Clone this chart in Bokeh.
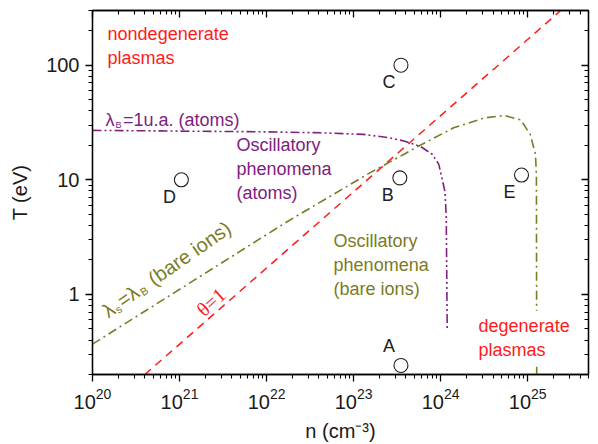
import math
from bokeh.plotting import figure
from bokeh.models import (LogAxis, FixedTicker, Label, LogTickFormatter,
                          PrintfTickFormatter, Range1d)
from bokeh.embed import file_html
from bokeh.resources import INLINE

# ---------------- data ----------------
# theta = 1 line (degeneracy boundary)
theta_n = [4.0e20, 2.4e25]
theta_T = [0.2, 300.0]

# lambda_B = 1 a.u. (atoms) curve
atoms_n = [1e20, 1e21, 1e22, 4.2e22, 1.29e23, 2.45e23, 3.8e23, 5.9e23,
           8.0e23, 9.5e23, 1.02e24, 1.12e24, 1.16e24, 1.19e24]
atoms_T = [27.0, 26.6, 26.2, 25.7, 24.9, 23.4, 21.8, 19.5,
           16.7, 13.7, 10.9, 7.9, 4.8, 0.5]

# lambda_s = lambda_B (bare ions) curve
ions_n = [1e20, 1.74e22, 1.57e23, 3.8e23, 5.6e23, 1.41e24, 3.16e24, 5.37e24,
          8.3e24, 1.07e25, 1.23e25, 1.26e25, 1.27e25]
ions_T = [0.368, 4.33, 11.6, 16.7, 19.7, 28.4, 34.6, 36.4,
          33.4, 24.9, 16.7, 10.9, 0.2]

# marked plasma conditions
pt_names = ["A", "B", "C", "D", "E"]
pt_n = [3.5e23, 3.4e23, 3.5e23, 1.05e21, 8.5e24]
pt_T = [0.24, 10.4, 100.0, 10.0, 11.0]

x_major = [1e20, 1e21, 1e22, 1e23, 1e24, 1e25]
y_major = [1, 10, 100]

# ---------------- styling ----------------
FONT = "Liberation Sans"
RED = "#ff1a1a"
PURPLE = "#80207f"
OLIVE = "#7b7b24"
INK = "#1a1a1a"

X0, X1 = 1e20, 5e25
Y0, Y1 = 0.2, 300

x_minor = [m * 10.0 ** k for k in range(20, 26) for m in range(2, 10) if m * 10.0 ** k <= X1]
y_minor = [m * 10.0 ** k for k in range(-1, 3) for m in range(2, 10) if Y0 <= m * 10.0 ** k <= Y1]

p = figure(width=598, height=444, x_axis_type="log", y_axis_type="log",
           x_range=Range1d(X0, X1), y_range=Range1d(Y0, Y1),
           output_backend="svg", toolbar_location=None,
           min_border_left=92, min_border_right=10, min_border_top=10,
           min_border_bottom=67)
p.xgrid.visible = False
p.ygrid.visible = False
p.outline_line_color = "black"
p.outline_line_width = 1.3
p.background_fill_color = "white"
p.border_fill_color = "white"

xt = FixedTicker(ticks=x_major, minor_ticks=x_minor)
yt = FixedTicker(ticks=y_major, minor_ticks=y_minor)

p.xaxis.ticker = xt
p.xaxis.formatter = LogTickFormatter()
p.yaxis.ticker = yt
p.yaxis.formatter = PrintfTickFormatter(format="%d")

for ax in (p.xaxis[0], p.yaxis[0]):
    ax.major_tick_out = 7
    ax.major_tick_in = 0
    ax.minor_tick_out = 4
    ax.minor_tick_in = 0
    ax.axis_line_width = 1.3
    ax.major_tick_line_width = 1.3
    ax.minor_tick_line_width = 1.1
    ax.axis_line_color = "black"
    ax.major_tick_line_color = "black"
    ax.minor_tick_line_color = "black"
    ax.major_label_text_font = FONT
    ax.major_label_text_font_size = "20px"
    ax.major_label_text_font_style = "normal"
    ax.major_label_text_color = INK
    ax.axis_label_text_font = FONT
    ax.axis_label_text_font_size = "20px"
    ax.axis_label_text_font_style = "normal"
    ax.axis_label_text_color = INK

p.xaxis.axis_label = "n (cm\u207b\u00b3)"
p.yaxis.axis_label = "T (eV)"
p.xaxis.major_label_standoff = 6
p.yaxis.major_label_standoff = 6
p.xaxis.axis_label_standoff = 8
p.yaxis.axis_label_standoff = 12

# mirrored axes with inward ticks
top = LogAxis(ticker=xt, formatter=LogTickFormatter())
right = LogAxis(ticker=yt, formatter=PrintfTickFormatter(format="%d"))
for ax in (top, right):
    ax.major_tick_out = 0
    ax.major_tick_in = 7
    ax.minor_tick_out = 0
    ax.minor_tick_in = 4
    ax.axis_line_width = 1.3
    ax.major_tick_line_width = 1.3
    ax.minor_tick_line_width = 1.1
    ax.major_label_text_font_size = "0px"
    ax.major_label_standoff = 0
    ax.major_label_text_color = None
p.add_layout(top, "above")
p.add_layout(right, "right")

# ---------------- curves ----------------
p.line(theta_n, theta_T, line_color=RED, line_width=1.5, line_dash="8 6")
p.line(atoms_n, atoms_T, line_color=PURPLE, line_width=1.6, line_dash="9 3 2 3 2 3")
p.line(ions_n, ions_T, line_color=OLIVE, line_width=1.6, line_dash="9 4 2 4")

p.scatter(pt_n, pt_T, marker="circle", size=14, fill_color=None,
          line_color="#202020", line_width=1.1)

# point letters (A sits above its circle, others below-left)
for name, n, T in zip(pt_names, pt_n, pt_T):
    dy = 19 if name == "A" else -17
    p.add_layout(Label(x=n, y=T, text=name, x_offset=-12, y_offset=dy,
                       text_align="center", text_baseline="middle",
                       text_font=FONT, text_font_size="18px", text_color="#202020"))

# ---------------- region texts ----------------
def block(x, y, text, color, bg=None):
    lab = Label(x=x, y=y, text=text, text_align="left", text_baseline="top",
                text_font=FONT, text_font_size="18px", text_color=color,
                text_line_height=1.2)
    if bg:
        lab.background_fill_color = bg
        lab.padding = 5
    p.add_layout(lab)

block(1.49e20, 230, "nondegenerate\nplasmas", RED)
block(4.52e21, 24.4, "Oscillatory\nphenomena\n(atoms)", PURPLE)
block(5.89e22, 3.6, "Oscillatory\nphenomena\n(bare ions)", OLIVE)
block(2.39e24, 0.72, "degenerate\nplasmas", RED, bg="white")


def rich(x, y, pieces, angle_deg, color, font=FONT):
    a = math.radians(angle_deg)
    c, s = math.cos(a), math.sin(a)
    adv = 0.0
    for text, size, shift, width in pieces:
        dx = adv * c + shift * s
        dy = adv * s - shift * c
        p.add_layout(Label(x=x, y=y, text=text, x_offset=dx, y_offset=dy,
                           angle=a, text_align="left", text_baseline="alphabetic",
                           text_font=font, text_font_size=f"{size}px",
                           text_color=color))
        adv += width


# lambda_B = 1 u.a. (atoms)
rich(1.41e20, 33.0, [("\u03bb", 18, 0, 10), ("B", 9, 5, 7.5),
                     ("=1u.a. (atoms)", 18, 0, 0)], 0, PURPLE)
# lambda_s = lambda_B (bare ions)
rich(1.37e20, 0.69, [("\u03bb", 20, 0, 11), ("s", 11, 5, 7),
                     ("=\u03bb", 20, 0, 23.5), ("B", 11, 5, 9),
                     ("\u00a0(bare ions)", 20, 0, 0)], 35, OLIVE)
# theta = 1
p.add_layout(Label(x=2.3e21, y=0.86, text="\u03b8=1", angle=math.radians(42),
                   text_align="center", text_baseline="middle",
                   text_font="Liberation Serif", text_font_size="20px",
                   text_color=RED))

open("out.html", "w").write(file_html(p, INLINE))
